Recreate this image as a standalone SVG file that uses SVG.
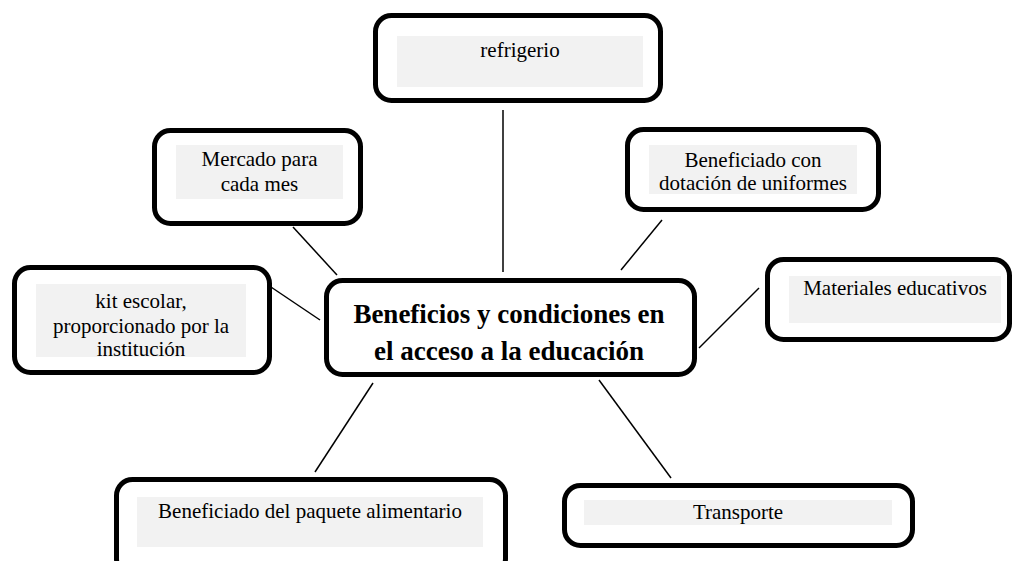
<svg xmlns="http://www.w3.org/2000/svg" width="1015" height="561" viewBox="0 0 1015 561">
<style>
.box{fill:#ffffff;stroke:#000000;stroke-width:5}
.pad{fill:#f2f2f2;stroke:none}
.t{font-family:'Liberation Serif','Times New Roman',Times,'DejaVu Serif',serif;font-size:21px;fill:#000;text-anchor:middle}
.c{font-family:'Liberation Serif','Times New Roman',Times,'DejaVu Serif',serif;font-size:27px;font-weight:bold;fill:#000;text-anchor:middle}
.ln{stroke:#000;stroke-width:1.5;fill:none}
</style>
<rect width="1015" height="561" fill="#ffffff"/>
<g id="connectors">
<line class="ln" x1="503" y1="110" x2="503" y2="272"/>
<line class="ln" x1="293" y1="227" x2="337" y2="275"/>
<line class="ln" x1="265" y1="283" x2="320" y2="320"/>
<line class="ln" x1="662" y1="220" x2="621" y2="270"/>
<line class="ln" x1="759" y1="288" x2="699" y2="348"/>
<line class="ln" x1="373" y1="383" x2="315" y2="472"/>
<line class="ln" x1="599" y1="380" x2="671" y2="478"/>
</g>
<g id="refrigerio">
<rect class="box" x="375.5" y="15.5" width="285" height="85" rx="16"/>
<rect class="pad" x="397" y="36" width="246" height="51"/>
<text class="t" x="520" y="57" font-family="Liberation Serif, serif">refrigerio</text>
</g>
<g id="mercado">
<rect class="box" x="154.5" y="130.5" width="206" height="93" rx="16"/>
<rect class="pad" x="176" y="145" width="167" height="54"/>
<text class="t" x="259.5" y="166">Mercado para</text>
<text class="t" x="259.5" y="191">cada mes</text>
</g>
<g id="kit">
<rect class="box" x="14.5" y="267.5" width="255" height="105" rx="16"/>
<rect class="pad" x="36" y="284" width="210" height="73"/>
<text class="t" x="141" y="308">kit escolar,</text>
<text class="t" x="141" y="333">proporcionado por la</text>
<text class="t" x="141" y="356">institución</text>
</g>
<g id="uniformes">
<rect class="box" x="627.5" y="129.5" width="251" height="80" rx="16"/>
<rect class="pad" x="649" y="145" width="208" height="49"/>
<text class="t" x="753" y="167">Beneficiado con</text>
<text class="t" x="753" y="190">dotación de uniformes</text>
</g>
<g id="materiales">
<rect class="box" x="767.5" y="259.5" width="242" height="80" rx="16"/>
<rect class="pad" x="789" y="276" width="212" height="47"/>
<text class="t" x="895" y="295">Materiales educativos</text>
</g>
<g id="central">
<rect class="box" x="326.5" y="280.5" width="368" height="94" rx="16"/>
<text class="c" x="509" y="323">Beneficios y condiciones en</text>
<text class="c" x="509" y="360">el acceso a la educación</text>
</g>
<g id="paquete">
<rect class="box" x="116.5" y="479.5" width="389" height="95" rx="16"/>
<rect class="pad" x="137" y="497" width="346" height="50"/>
<text class="t" x="310" y="518">Beneficiado del paquete alimentario</text>
</g>
<g id="transporte">
<rect class="box" x="564.5" y="485.5" width="348" height="60" rx="16"/>
<rect class="pad" x="584" y="500" width="308" height="25"/>
<text class="t" x="738" y="519">Transporte</text>
</g>
</svg>
